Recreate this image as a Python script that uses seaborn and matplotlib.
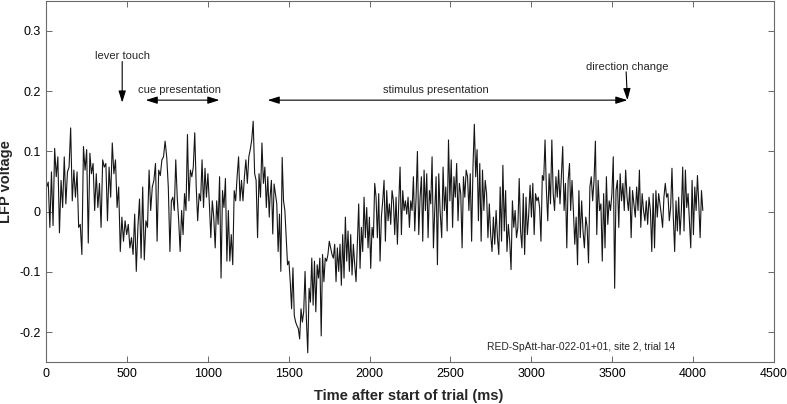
import numpy as np
import pandas as pd
import matplotlib
matplotlib.use("Agg")
import matplotlib.pyplot as plt
import seaborn as sns
from matplotlib.ticker import FuncFormatter

# ---- data (LFP voltage, segments with their time spans in ms) ----
seg_a_span = (4, 756)
seg_a = [0.041, 0.049, -0.026, 0.066, -0.023, 0.105, 0.058, 0.091, -0.035, 0.052,
         0.007, 0.091, 0.013, 0.066, 0.074, 0.139, 0.018, 0.069, 0.024, 0.066,
         -0.026, -0.021, -0.071, 0.108, 0.069, 0.103, -0.052, 0.097, 0.063, 0.080,
         0.002, 0.063, 0.007, 0.047, -0.026, 0.086, 0.074, 0.080, -0.015, 0.074,
         0.024, 0.114, 0.063, 0.086, 0.007, 0.041, -0.066, -0.009, -0.049, -0.015,
         -0.038, -0.021, -0.060, -0.043, -0.071, -0.004, -0.099, -0.026, 0.021, -0.077,
         0.041, -0.080, -0.015, -0.026, 0.069, 0.002, 0.041, 0.052, 0.080, -0.049,
         0.069, 0.060, 0.086, 0.091, 0.117, 0.091, 0.041]

seg_b_span = (766, 1380)
seg_b = [-0.066, 0.018, 0.024, 0.002, 0.086, 0.024, -0.015, -0.066, 0.002, -0.038,
         0.030, 0.002, 0.128, 0.018, 0.069, 0.058, 0.074, 0.131, 0.041, -0.015,
         0.030, 0.018, 0.086, 0.007, 0.072, 0.024, 0.063, 0.013, -0.043, 0.018,
         -0.009, -0.060, 0.018, -0.021, 0.058, -0.110, 0.035, 0.007, 0.055, -0.082,
         0.002, -0.082, -0.038, -0.088, 0.035, 0.018, 0.058, 0.091, 0.018, 0.052,
         0.018, 0.058, 0.086, 0.047, 0.091, 0.103, 0.119, 0.150, 0.063, 0.052,
         -0.043, 0.063, 0.024, 0.114, 0.047, 0.074, 0.007, 0.058, -0.009]

seg_c_span = (1385, 1751)
seg_c = [0.024, 0.052, -0.037, 0.046, 0.030, 0.013, -0.066, -0.004, -0.099, 0.090,
         0.018, 0.002, -0.043, -0.088, -0.082, -0.116, -0.161, -0.093, -0.172, -0.183,
         -0.189, -0.194, -0.211, -0.161, -0.183, -0.166, -0.099, -0.178, -0.234, -0.127,
         -0.150, -0.077, -0.155, -0.082, -0.166, -0.088, -0.110, -0.077, -0.206, -0.071,
         -0.116, -0.077, -0.082, -0.071, -0.049]

seg_d_span = (1768, 2436)
seg_d = [-0.071, -0.077, -0.054, -0.116, -0.060, -0.099, -0.054, -0.122, -0.038, -0.110,
         -0.009, -0.082, -0.032, -0.099, -0.038, -0.105, -0.054, -0.088, -0.116, -0.054,
         0.013, -0.094, -0.026, -0.066, 0.024, -0.043, 0.007, -0.060, -0.009, -0.094,
         -0.026, -0.043, 0.047, 0.024, -0.043, 0.030, -0.082, -0.009, 0.018, 0.052,
         -0.049, 0.035, -0.015, 0.013, -0.021, 0.035, 0.018, -0.038, 0.024, -0.054,
         0.013, 0.074, -0.038, 0.035, 0.002, 0.018, -0.004, 0.024, -0.026, 0.018,
         0.002, 0.058, -0.032, 0.024, 0.100, -0.038, 0.024, 0.058, -0.049, 0.069,
         0.002, 0.063, -0.043, 0.035, 0.013, 0.091, -0.060, 0.002, 0.058, -0.088,
         0.063, 0.002]

seg_e_span = (2446, 3236)
seg_e = [-0.043, 0.074, 0.002, 0.041, -0.032, 0.119, 0.018, 0.086, -0.026, 0.058,
         0.024, 0.080, -0.015, 0.047, 0.030, -0.060, 0.058, 0.024, 0.069, 0.058,
         0.002, 0.063, -0.049, 0.074, 0.145, 0.058, 0.103, -0.015, 0.080, -0.049,
         0.069, 0.002, 0.052, 0.030, -0.043, 0.013, -0.038, -0.066, -0.009, -0.054,
         0.002, -0.043, -0.071, 0.041, -0.049, 0.077, -0.032, 0.035, -0.066, -0.021,
         -0.049, -0.096, 0.018, -0.026, 0.002, -0.043, -0.026, 0.055, -0.032, -0.060,
         0.030, -0.071, 0.024, -0.038, -0.004, 0.044, -0.009, 0.047, -0.038, 0.030,
         0.018, 0.024, 0.007, -0.049, 0.060, 0.052, 0.119, 0.035, -0.015, 0.063,
         0.013, 0.119, 0.030, 0.002, 0.058, 0.024, 0.069, 0.013, 0.058, 0.108,
         0.002, 0.047, -0.060, 0.052, 0.080]

seg_f_span = (3243, 3787)
seg_f = [0.002, 0.052, 0.002, -0.054, -0.009, -0.088, 0.035, -0.043, 0.018, -0.032,
         -0.060, -0.009, -0.026, -0.085, 0.041, 0.058, 0.018, 0.052, 0.117, -0.038,
         0.052, 0.002, 0.013, -0.082, 0.030, -0.060, 0.058, -0.021, 0.018, 0.002,
         0.030, 0.091, -0.127, 0.035, 0.052, -0.026, 0.063, 0.018, 0.047, 0.002,
         0.069, 0.024, 0.002, 0.041, -0.043, 0.035, 0.013, -0.009, 0.041, 0.002,
         0.069, -0.026, 0.030, 0.002, -0.015, 0.018, -0.021, 0.024, 0.002, -0.066,
         0.030, -0.060, 0.035, -0.009, 0.030]

seg_g_span = (3803, 4060)
seg_g = [-0.004, -0.026, 0.024, 0.047, 0.024, 0.030, -0.015, 0.007, 0.072, -0.009,
         -0.066, 0.018, -0.032, 0.024, -0.038, 0.002, 0.074, -0.032, 0.069, 0.007,
         0.030, -0.015, -0.060, 0.052, -0.038, 0.041, 0.002, 0.060, 0.013, -0.043,
         0.035, 0.002]

# events (ms)
lever_touch = 471
cue_on, cue_off = 616, 1072
stim_on, stim_off = 1370, 3594
direction_change = 3594

x_ticks = [0, 500, 1000, 1500, 2000, 2500, 3000, 3500, 4000, 4500]
y_ticks = [-0.2, -0.1, 0.0, 0.1, 0.2, 0.3]
caption = "RED-SpAtt-har-022-01+01, site 2, trial 14"

# ---- build frame ----
segments = [(seg_a_span, seg_a), (seg_b_span, seg_b), (seg_c_span, seg_c),
            (seg_d_span, seg_d), (seg_e_span, seg_e), (seg_f_span, seg_f),
            (seg_g_span, seg_g)]
t_all, v_all = [], []
for (t0, t1), vals in segments:
    t_all.append(np.linspace(t0, t1, len(vals)))
    v_all.append(np.asarray(vals))
df = pd.DataFrame({"t": np.concatenate(t_all), "v": np.concatenate(v_all)})

# ---- style ----
sns.set_theme(style="ticks")
plt.rcParams["font.family"] = ["Liberation Sans", "DejaVu Sans"]
axis_col = "#6a6a6a"
plt.rcParams.update({
    "axes.edgecolor": axis_col, "axes.linewidth": 0.8,
    "xtick.color": axis_col, "ytick.color": axis_col,
    "xtick.labelcolor": "black", "ytick.labelcolor": "black",
    "xtick.direction": "in", "ytick.direction": "in",
    "xtick.major.size": 4, "ytick.major.size": 4,
    "xtick.major.width": 0.7, "ytick.major.width": 0.7,
    "xtick.top": True, "ytick.right": True,
})

fig = plt.figure(figsize=(7.87, 4.04), dpi=100)
ax = fig.add_axes([46 / 787, 1 - 362.45 / 404, (774 - 46) / 787, (362.45 - 0.65) / 404])

sns.lineplot(data=df, x="t", y="v", sort=False, estimator=None,
             color="#161616", linewidth=0.8, ax=ax)

ax.set_xlim(0, 4500)
ax.set_ylim(-0.25, 0.35)
ax.set_xticks(x_ticks)
ax.set_yticks(y_ticks)
ax.yaxis.set_major_formatter(FuncFormatter(lambda v, p: "0" if abs(v) < 1e-9 else f"{v:g}"))
ax.tick_params(axis="both", labelsize=9, pad=4)
for s in ax.spines.values():
    s.set_visible(True)

ax.set_xlabel("Time after start of trial (ms)", fontsize=10.5, fontweight="bold")
ax.set_ylabel("LFP voltage", fontsize=10.5, fontweight="bold")
ax.xaxis.set_label_coords(0.4986, -0.093)
ax.yaxis.set_label_coords(-0.0543, 0.5)
ax.xaxis.label.set_va("center")
ax.yaxis.label.set_va("center")

# ---- annotations ----
fs = 8
head = dict(arrowstyle="-|>,head_length=0.7,head_width=0.22", color="black",
            lw=0.8, shrinkA=0, shrinkB=0, mutation_scale=10)
dbl = dict(arrowstyle="<|-|>,head_length=0.7,head_width=0.22", color="black",
           lw=0.8, shrinkA=0, shrinkB=0, mutation_scale=10)

ax.text(lever_touch, 0.259, "lever touch", ha="center", va="center", fontsize=fs)
ax.annotate("", xy=(lever_touch, 0.181), xytext=(lever_touch, 0.249), arrowprops=head)

ax.text(823, 0.201, "cue presentation", ha="center", va="center", fontsize=fs)
ax.annotate("", xy=(cue_off, 0.185), xytext=(cue_on, 0.185), arrowprops=dbl)

ax.text(2407, 0.202, "stimulus presentation", ha="center", va="center", fontsize=fs)
ax.annotate("", xy=(stim_off, 0.185), xytext=(stim_on, 0.185), arrowprops=dbl)

ax.text(direction_change, 0.240, "direction change", ha="center", va="center", fontsize=fs)
ax.annotate("", xy=(direction_change, 0.185), xytext=(direction_change - 8, 0.232), arrowprops=head)

ax.text(3309, -0.225, caption, ha="center", va="center", fontsize=7.4)

fig.savefig("out.png", dpi=100)
